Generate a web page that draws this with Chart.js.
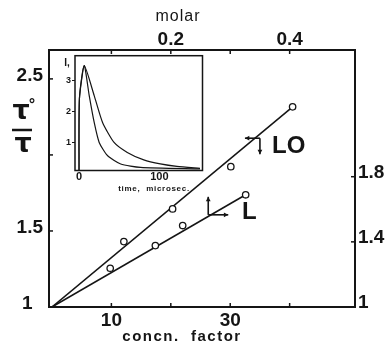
<!DOCTYPE html>
<html>
<head>
<meta charset="utf-8">
<script src="https://cdn.jsdelivr.net/npm/chart.js@4.4.0/dist/chart.umd.min.js"></script>
<style>
  html, body { margin: 0; padding: 0; background: #fff; }
  #wrap { position: relative; width: 386px; height: 344px; }
  #main { position: absolute; left: 0; top: 0; }
  #inset { position: absolute; left: 55px; top: 48px; }
</style>
</head>
<body>
<div id="wrap">
  <canvas id="main" width="386" height="344"></canvas>
  <canvas id="inset" width="150" height="150"></canvas>
</div>
<script>
// axis ticks
const concnTicks = [10, 20, 30, 40];
const concnLabels = [10, 30];
const molarTicks = [0.1, 0.2, 0.3, 0.4];
const molarLabels = [0.2, 0.4];
const leftTicks = [1, 1.5, 2, 2.5];
const leftLabels = [1, 1.5, 2.5];
const rightTicks = [1, 1.4, 1.8];

// LO: concn. factor vs tau0/tau (left axis)
const loConcn = [12.1, 20.3, 30.1, 40.5];
const loRatio = [1.43, 1.645, 1.923, 2.316];
const loFitConcn = [0, 40.5];
const loFitRatio = [1, 2.316];

// L: molar vs right axis
const lMolar = [0.098, 0.174, 0.220, 0.326];
const lRatio = [1.238, 1.377, 1.50, 1.689];
const lFitMolar = [0, 0.326];
const lFitRatio = [1, 1.689];

// inset decay curves (time in microsec, intensity)
const slowTime = [0, 0.5, 6.5, 18.9, 29.3, 43.6, 60.1, 80.6, 101.2, 121.9, 150.6];
const slowI = [0.1, 2.4, 3.46, 2.5, 1.64, 1.0, 0.68, 0.44, 0.31, 0.23, 0.17];
const fastTime = [0, 0.5, 6.5, 12.7, 18.9, 25.1, 35.4, 51.9, 76.5, 150.6];
const fastI = [0.1, 2.4, 3.46, 2.5, 1.64, 1.0, 0.58, 0.31, 0.2, 0.15];
const insetTimeTicks = [0, 100];
const insetITicks = [1, 2, 3];

const ink = '#151515';
const tickFont = { family: 'Liberation Sans', size: 19, weight: 'bold' };
const pts = (xs, ys) => xs.map((x, i) => ({ x: x, y: ys[i] }));
const setTicks = list => scale => { scale.ticks = list.map(v => ({ value: v })); };

function arrow(ctx, x1, y1, x2, y2) {
  const a = Math.atan2(y2 - y1, x2 - x1), h = 5;
  ctx.beginPath();
  ctx.moveTo(x1, y1); ctx.lineTo(x2, y2);
  ctx.stroke();
  ctx.beginPath();
  ctx.moveTo(x2, y2);
  ctx.lineTo(x2 - h * Math.cos(a - 0.5), y2 - h * Math.sin(a - 0.5));
  ctx.lineTo(x2 - h * Math.cos(a + 0.5), y2 - h * Math.sin(a + 0.5));
  ctx.closePath();
  ctx.fill();
}

// short tick marks pointing into the plot
const innerTicks = {
  id: 'innerTicks',
  afterDraw(chart) {
    const { ctx, chartArea: a } = chart;
    const len = 4;
    ctx.save();
    ctx.strokeStyle = ink;
    ctx.lineWidth = 1.5;
    Object.values(chart.scales).forEach(s => {
      s.ticks.forEach(t => {
        if (t.value === s.min) return;
        const p = s.getPixelForValue(t.value);
        ctx.beginPath();
        if (s.position === 'bottom') { ctx.moveTo(p, a.bottom); ctx.lineTo(p, a.bottom - len); }
        if (s.position === 'top') { ctx.moveTo(p, a.top); ctx.lineTo(p, a.top + len); }
        if (s.position === 'left') { ctx.moveTo(a.left, p); ctx.lineTo(a.left + len, p); }
        if (s.position === 'right') { ctx.moveTo(a.right, p); ctx.lineTo(a.right - len, p); }
        ctx.stroke();
      });
    });
    ctx.restore();
  }
};

const notes = {
  id: 'notes',
  afterDraw(chart) {
    const { ctx, scales } = chart;
    ctx.save();
    ctx.fillStyle = ink;
    ctx.strokeStyle = ink;
    ctx.textAlign = 'center';
    ctx.textBaseline = 'middle';

    // axis titles
    ctx.font = '16px "Liberation Sans"';
    ctx.letterSpacing = '1px';
    ctx.fillText('molar', 178, 17);
    ctx.font = 'bold 15px "Liberation Sans"';
    ctx.letterSpacing = '1.5px';
    ctx.fillText('concn.  factor', 182, 337);
    ctx.letterSpacing = '0px';

    // tau0 / tau
    ctx.font = 'bold 27px "DejaVu Sans"';
    ctx.fillText('τ', 21, 112);
    ctx.font = 'bold 15px "DejaVu Sans"';
    ctx.fillText('°', 32, 106);
    ctx.lineWidth = 2.5;
    ctx.beginPath(); ctx.moveTo(12, 130); ctx.lineTo(32, 130); ctx.stroke();
    ctx.font = 'bold 27px "DejaVu Sans"';
    ctx.fillText('τ', 23, 145);

    // LO label and arrows
    ctx.lineWidth = 1.6;
    const jx = scales.x.getPixelForValue(35), jy = scales.y.getPixelForValue(2.11);
    arrow(ctx, jx, jy, jx - 15, jy);
    arrow(ctx, jx, jy, jx, jy + 16);
    ctx.font = 'bold 24px "Liberation Sans"';
    ctx.textAlign = 'left';
    ctx.fillText('LO', 272, 146);

    // L label and arrows
    const kx = scales.x2.getPixelForValue(0.263), ky = scales.y2.getPixelForValue(1.566);
    arrow(ctx, kx, ky, kx, ky - 18);
    arrow(ctx, kx, ky, kx + 20, ky);
    ctx.fillText('L', 242, 212);
    ctx.restore();
  }
};

new Chart(document.getElementById('main'), {
  type: 'scatter',
  data: {
    datasets: [
      { data: pts(loConcn, loRatio), xAxisID: 'x', yAxisID: 'y', showLine: false,
        pointRadius: 3.2, pointBorderWidth: 1.3, pointBorderColor: ink, pointBackgroundColor: '#fff' },
      { data: pts(lMolar, lRatio), xAxisID: 'x2', yAxisID: 'y2', showLine: false,
        pointRadius: 3.2, pointBorderWidth: 1.3, pointBorderColor: ink, pointBackgroundColor: '#fff' },
      { data: pts(loFitConcn, loFitRatio), xAxisID: 'x', yAxisID: 'y', showLine: true,
        borderColor: ink, borderWidth: 1.6, pointRadius: 0 },
      { data: pts(lFitMolar, lFitRatio), xAxisID: 'x2', yAxisID: 'y2', showLine: true,
        borderColor: ink, borderWidth: 1.6, pointRadius: 0 }
    ]
  },
  options: {
    responsive: false,
    animation: false,
    layout: { padding: 0 },
    plugins: { legend: { display: false }, tooltip: { enabled: false } },
    scales: {
      x: {
        type: 'linear', position: 'bottom', min: -0.5, max: 51,
        afterBuildTicks: setTicks(concnTicks),
        afterFit: s => { s.height = 37; s.paddingLeft = 0; s.paddingRight = 0; },
        grid: { display: false, drawTicks: false },
        border: { display: true, color: ink, width: 2 },
        ticks: { callback: v => concnLabels.includes(v) ? String(v) : '', font: tickFont, color: ink,
                 padding: 2, maxRotation: 0, autoSkip: false }
      },
      x2: {
        type: 'linear', position: 'top', min: -0.005, max: 0.51,
        afterBuildTicks: setTicks(molarTicks),
        afterFit: s => { s.height = 50; s.paddingLeft = 0; s.paddingRight = 0; },
        grid: { display: false, drawTicks: false },
        border: { display: true, color: ink, width: 2 },
        ticks: { callback: v => molarLabels.includes(v) ? String(v) : '', font: tickFont, color: ink,
                 padding: -1, maxRotation: 0, autoSkip: false }
      },
      y: {
        type: 'linear', position: 'left', min: 1, max: 2.69,
        afterBuildTicks: setTicks(leftTicks),
        afterFit: s => { s.width = 49; s.paddingTop = 0; s.paddingBottom = 0; },
        grid: { display: false, drawTicks: false },
        border: { display: true, color: ink, width: 2 },
        ticks: {
          // the "1" sits a little further out than the other labels
          callback: v => !leftLabels.includes(v) ? '' : (v === 1 ? '1  ' : String(v)),
          font: tickFont, color: ink, padding: 6, labelOffset: -3, autoSkip: false
        }
      },
      y2: {
        type: 'linear', position: 'right', min: 1, max: 2.578,
        afterBuildTicks: setTicks(rightTicks),
        afterFit: s => { s.width = 31; s.paddingTop = 0; s.paddingBottom = 0; },
        grid: { display: false, drawTicks: false },
        border: { display: true, color: ink, width: 2 },
        ticks: { callback: v => String(v), font: tickFont, color: ink,
                 padding: 3, labelOffset: -4, autoSkip: false }
      }
    }
  },
  plugins: [innerTicks, notes]
});

const insetNotes = {
  id: 'insetNotes',
  afterDraw(chart) {
    const { ctx, chartArea: a } = chart;
    ctx.save();
    ctx.strokeStyle = ink;
    ctx.lineWidth = 1.5;
    ctx.strokeRect(a.left, a.top, a.right - a.left, a.bottom - a.top);
    ctx.fillStyle = ink;
    ctx.textAlign = 'center';
    ctx.textBaseline = 'middle';
    ctx.font = 'bold 10px "Liberation Sans"';
    ctx.fillText('I,', 12, 15);
    ctx.font = 'bold 8px "Liberation Sans"';
    ctx.letterSpacing = '0.7px';
    ctx.fillText('time,  microsec.', 99, 141);
    ctx.restore();
  }
};

new Chart(document.getElementById('inset'), {
  type: 'scatter',
  data: {
    datasets: [
      { data: pts(slowTime, slowI), showLine: true, borderColor: ink, borderWidth: 1.2,
        pointRadius: 0, tension: 0.2 },
      { data: pts(fastTime, fastI), showLine: true, borderColor: ink, borderWidth: 1.2,
        pointRadius: 0, tension: 0.2 }
    ]
  },
  options: {
    responsive: false,
    animation: false,
    layout: { padding: { top: 7.7, right: 2.5, left: 0, bottom: 0 } },
    plugins: { legend: { display: false }, tooltip: { enabled: false } },
    scales: {
      x: {
        type: 'linear', min: -5, max: 153.7,
        afterBuildTicks: setTicks(insetTimeTicks),
        afterFit: s => { s.height = 27.5; s.paddingLeft = 0; s.paddingRight = 0; },
        grid: { display: false, drawTicks: false },
        border: { display: false },
        ticks: { font: { family: 'Liberation Sans', size: 11, weight: 'bold' }, color: ink, padding: 0, maxRotation: 0 }
      },
      y: {
        type: 'linear', min: 0.1, max: 3.78,
        afterBuildTicks: setTicks(insetITicks),
        afterFit: s => { s.width = 20; s.paddingTop = 0; s.paddingBottom = 0; },
        grid: { display: true, drawOnChartArea: false, drawTicks: true, tickLength: 3, color: ink, lineWidth: 1 },
        border: { display: false },
        ticks: { font: { family: 'Liberation Sans', size: 9, weight: 'bold' }, color: ink, padding: 1 }
      }
    }
  },
  plugins: [insetNotes]
});
</script>
</body>
</html>
